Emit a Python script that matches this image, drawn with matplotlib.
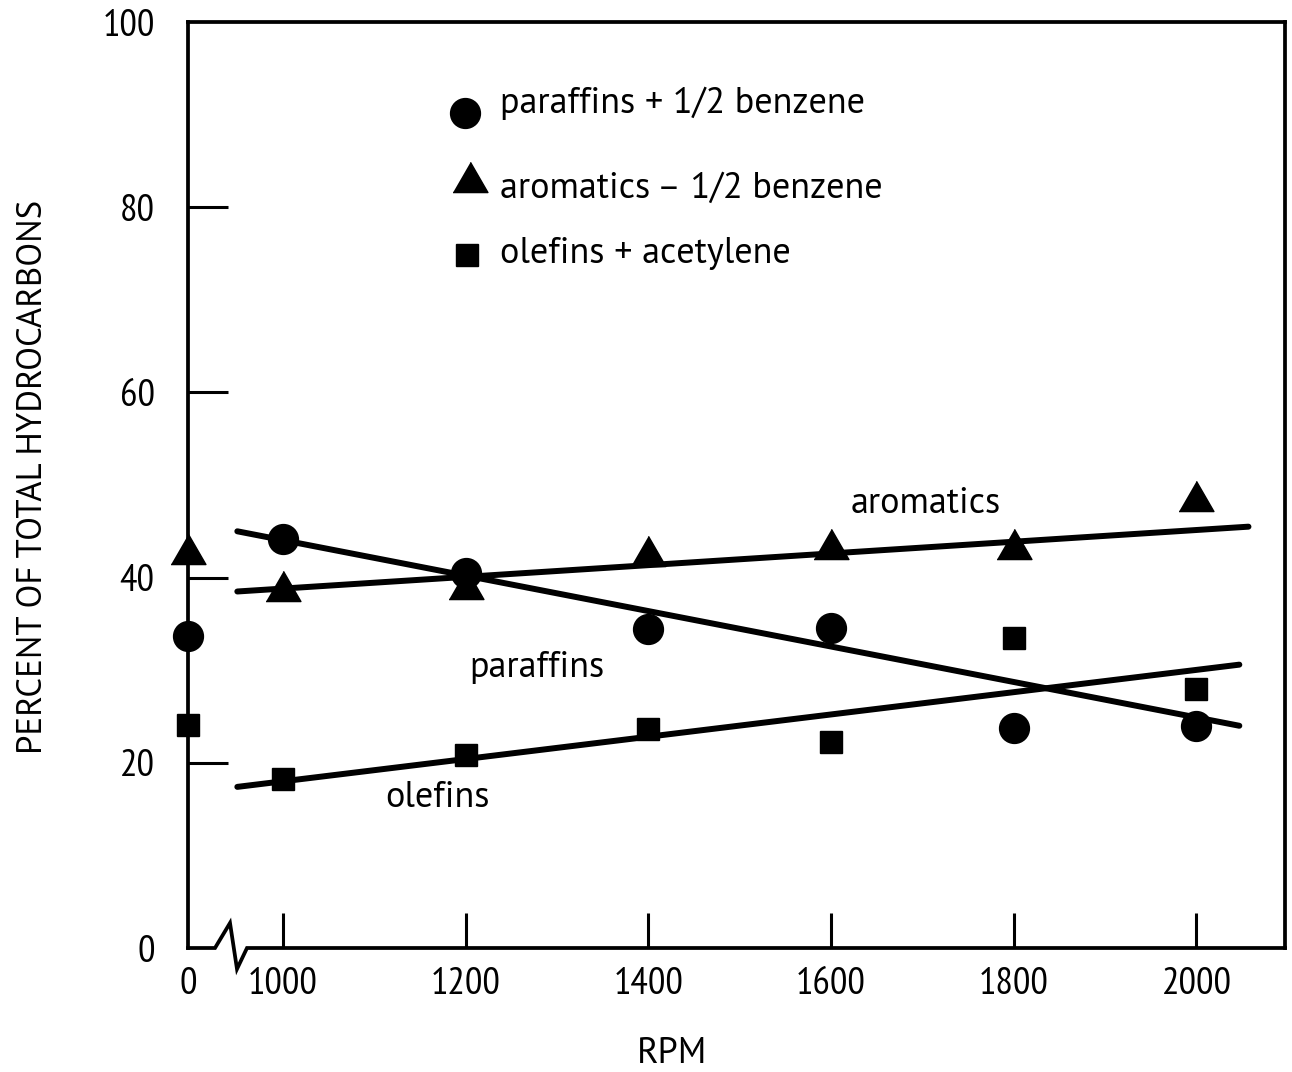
import matplotlib

matplotlib.use("Agg")
import matplotlib.pyplot as plt
import numpy as np

plt.rcParams["font.family"] = ["PT Sans Narrow", "DejaVu Sans"]
LABEL_FONT = ["PT Sans", "DejaVu Sans"]

# Engine speed (0 = idle, drawn on a broken axis)
rpm = [0, 1000, 1200, 1400, 1600, 1800, 2000]
paraffins = [33.7, 44.2, 40.5, 34.5, 34.6, 23.8, 24.0]
aromatics = [42.5, 38.6, 38.8, 42.3, 43.1, 43.1, 48.3]
olefins = [24.1, 18.2, 20.8, 23.6, 22.3, 33.5, 28.0]

# Fitted trend lines (end points)
aromatics_fit_rpm = [950, 2057]
aromatics_fit = [38.5, 45.5]
paraffins_fit_rpm = [950, 2047]
paraffins_fit = [45.0, 24.0]
olefins_fit_rpm = [950, 2047]
olefins_fit = [17.4, 30.6]

xtick_rpm = [0, 1000, 1200, 1400, 1600, 1800, 2000]
ytick_vals = [0, 20, 40, 60, 80, 100]

legend_labels = [
    "paraffins + 1/2 benzene",
    "aromatics \u2013 1/2 benzene",
    "olefins + acetylene",
]

# idle point sits on the left spine, the rest of the axis is linear in rpm
IDLE_POS = 896


def rpm_pos(values):
    values = np.asarray(values, dtype=float)
    return np.where(values == 0, IDLE_POS, values)


tri = [(-1, -0.577), (1, -0.577), (0, 1.155)]

fig = plt.figure(figsize=(12.92, 10.72), dpi=100)
ax = fig.add_axes([188 / 1292, 124 / 1072, 1097 / 1292, 926 / 1072])

lw = 4.3
ax.plot(rpm_pos(aromatics_fit_rpm), aromatics_fit, color="black", lw=lw,
        solid_capstyle="round")
ax.plot(rpm_pos(paraffins_fit_rpm), paraffins_fit, color="black", lw=lw,
        solid_capstyle="round")
ax.plot(rpm_pos(olefins_fit_rpm), olefins_fit, color="black", lw=lw,
        solid_capstyle="round")

ax.plot(rpm_pos(rpm), paraffins, "o", color="black", ms=21.5, clip_on=False)
ax.plot(rpm_pos(rpm), aromatics, marker=tri, ls="none", color="black", ms=29,
        clip_on=False)
ax.plot(rpm_pos(rpm), olefins, "s", color="black", ms=16.5, clip_on=False)

ax.set_xlim(IDLE_POS, 2097)
ax.set_ylim(0, 100)

ax.set_xticks(rpm_pos(xtick_rpm))
ax.set_xticklabels([str(v) for v in xtick_rpm])
ax.set_yticks(ytick_vals)
ax.set_yticklabels([str(v) for v in ytick_vals])
ax.tick_params(axis="x", direction="in", length=25, width=2.2, pad=14,
               labelsize=28)
ax.tick_params(axis="y", direction="in", length=29, width=2.2, pad=24,
               labelsize=28)
# no tick marks on the corner (idle / 0 %)
ax.xaxis.get_major_ticks()[0].tick1line.set_visible(False)
ax.yaxis.get_major_ticks()[0].tick1line.set_visible(False)
ax.yaxis.get_major_ticks()[-1].tick1line.set_visible(False)

for side in ("left", "top", "right"):
    ax.spines[side].set_linewidth(2.7)
ax.spines["bottom"].set_visible(False)

# bottom axis with a break mark between idle and 1000 rpm
w = 1097.0
h = 926.0
bx = np.array([0, 27, 42, 49, 59, w]) / w
by = np.array([0, 0, 25, -21, 0, 0]) / h
ax.plot(bx, by, color="black", lw=2.7, transform=ax.transAxes, clip_on=False,
        solid_joinstyle="miter")

ax.set_ylabel("PERCENT OF TOTAL HYDROCARBONS", fontsize=25,
              family=LABEL_FONT)
ax.yaxis.set_label_coords(-0.127, 0.509)
ax.set_xlabel("RPM", fontsize=26, family=LABEL_FONT)
ax.xaxis.set_label_coords(0.441, -0.096)

# in-plot key
key_x = 0.2544
key_y = [0.9017, 0.827, 0.748]
ax.plot(key_x - 0.002, key_y[0], "o", color="black", ms=21.5,
        transform=ax.transAxes)
ax.plot(key_x + 0.0025, key_y[1], marker=tri, color="black", ms=29,
        transform=ax.transAxes)
ax.plot(key_x, key_y[2], "s", color="black", ms=16.5, transform=ax.transAxes)
text_y = [0.9125, 0.8207, 0.7505]
for ty, lab in zip(text_y, legend_labels):
    ax.text(0.2844, ty, lab, fontsize=26, ha="left", va="center",
            transform=ax.transAxes, family=LABEL_FONT)

ax.text(1704, 48.0, "aromatics", fontsize=26, ha="center", va="center",
        family=LABEL_FONT)
ax.text(1278, 30.3, "paraffins", fontsize=26, ha="center", va="center",
        family=LABEL_FONT)
ax.text(1169, 16.2, "olefins", fontsize=26, ha="center", va="center",
        family=LABEL_FONT)

fig.savefig("out.png", dpi=100)
